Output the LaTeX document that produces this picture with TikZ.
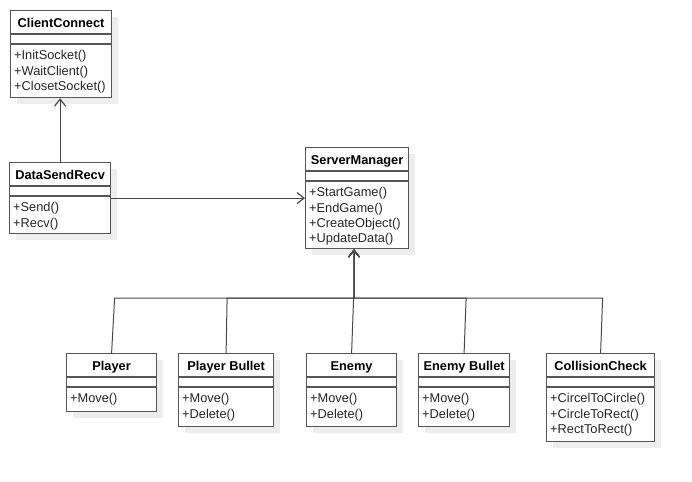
\documentclass[tikz,border=0pt]{standalone}
\usepackage{fontspec}
\setmainfont{Liberation Sans}
\usetikzlibrary{arrows.meta,calc}
\definecolor{linec}{HTML}{555555}
\definecolor{shadowc}{HTML}{EDEDED}
\definecolor{textc}{HTML}{262626}
\tikzset{
  classbox/.style={draw=linec, line width=1.2pt, fill=white, inner sep=0pt, anchor=north west},
  sepline/.style={draw=linec, line width=1.2pt},
  titletext/.style={font=\fontsize{12.8}{15}\selectfont\bfseries, text=black, inner sep=0pt, anchor=base},
  methtext/.style={font=\fontsize{12.8}{15.2}\selectfont, text=textc, inner sep=0pt, align=left, anchor=north west},
  conn/.style={draw=linec!85!black, line width=1pt},
  arr/.style={conn, -{Straight Barb[length=7pt,width=11pt,line width=1.2pt]}},
}
% name, x1, y1, x2, y2, title, methods
\newcommand{\umlclass}[7]{%
  \fill[shadowc] (#2+7,#3+7) rectangle (#4+7,#5+7);
  \node[classbox, minimum width={(#4-#2)*1pt}, minimum height={(#5-#3)*1pt}] (#1) at (#2,#3) {};
  \draw[sepline] ([yshift=-24pt]#1.north west) -- ([yshift=-24pt]#1.north east);
  \draw[sepline] ([yshift=-34pt]#1.north west) -- ([yshift=-34pt]#1.north east);
  \node[titletext] (#1-title) at ([yshift=-17.6pt]#1.north) {#6};
  \node[methtext] (#1-meth) at ([xshift=4pt,yshift=-40.5pt]#1.north west) {#7};
}
\begin{document}
\begin{tikzpicture}[x=1pt,y=-1pt]
\useasboundingbox (0,0) rectangle (692,481);
\umlclass{cc}{10}{10}{111}{97}{ClientConnect}{+InitSocket()\\+WaitClient()\\+ClosetSocket()}
\umlclass{dsr}{9}{162}{110}{233}{DataSendRecv}{+Send()\\+Recv()}
\umlclass{sm}{305}{147}{408}{248}{ServerManager}{+StartGame()\\+EndGame()\\+CreateObject()\\+UpdateData()}
\umlclass{pl}{66}{353}{156}{411}{Player}{+Move()}
\umlclass{pb}{178}{353}{273}{426}{Player Bullet}{+Move()\\+Delete()}
\umlclass{en}{306}{353}{396}{426}{Enemy}{+Move()\\+Delete()}
\umlclass{eb}{418}{353}{509}{426}{Enemy Bullet}{+Move()\\+Delete()}
\umlclass{ck}{546}{353}{654}{441}{CollisionCheck}{+CircelToCircle()\\+CircleToRect()\\+RectToRect()}
\coordinate (bus) at (354,298);
% connectors
\draw[arr] (dsr.north) -- (dsr.north |- cc.south);
\draw[arr] (dsr.east) -- (sm.west);
\draw[arr] (pl.north) -- ([xshift=3pt]pl.north |- bus) -- (bus) -- (bus |- sm.south);
\draw[arr] (pb.north) -- ([xshift=1pt]pb.north |- bus) -- (bus) -- (bus |- sm.south);
\draw[arr] (en.north) -- ([xshift=2pt]en.north |- bus) -- (bus) -- (bus |- sm.south);
\draw[arr] (eb.north) -- ([xshift=2pt]eb.north |- bus) -- (bus) -- (bus |- sm.south);
\draw[arr] (ck.north) -- ([xshift=2pt]ck.north |- bus) -- (bus) -- (bus |- sm.south);
\end{tikzpicture}
\end{document}
